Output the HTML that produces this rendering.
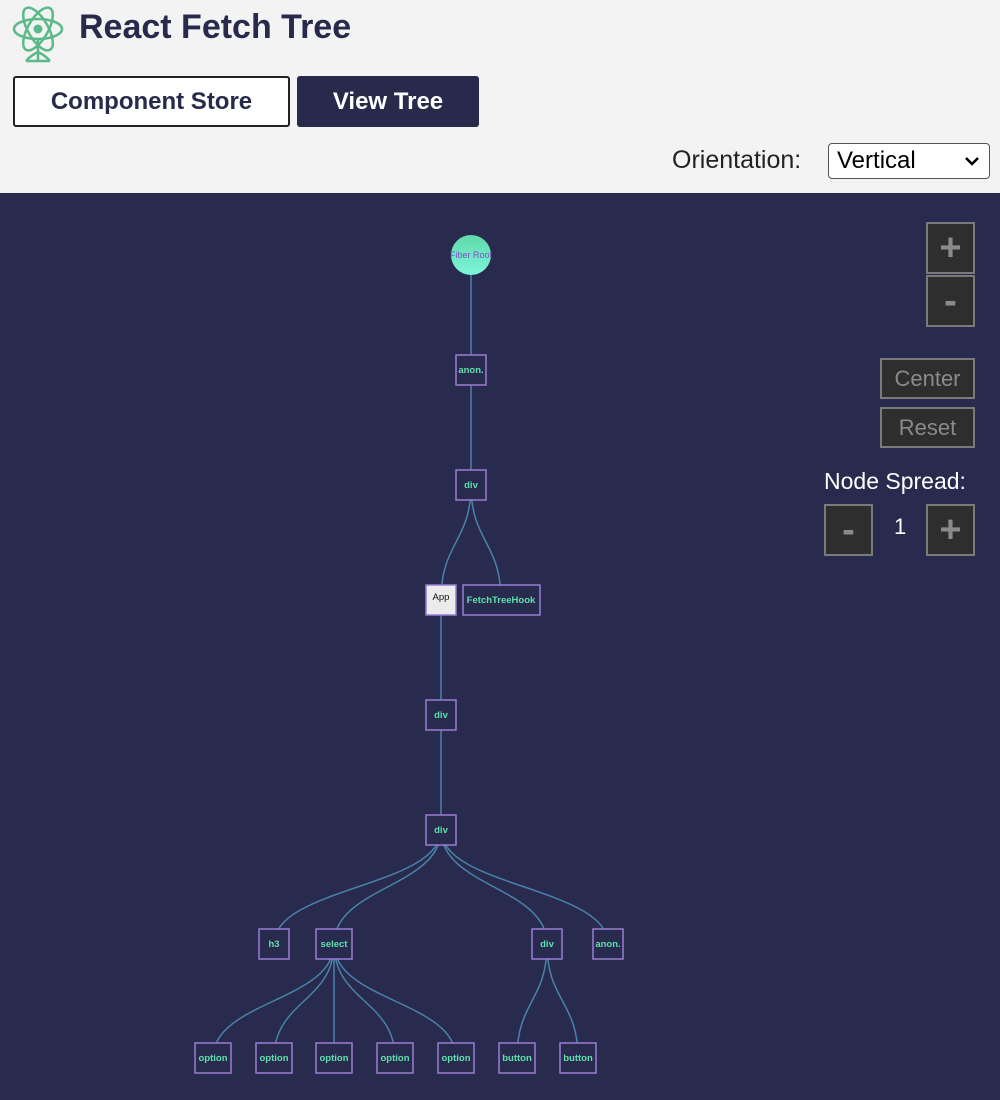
<!DOCTYPE html>
<html><head><meta charset="utf-8"><style>
*{margin:0;padding:0;box-sizing:border-box}
body{width:1000px;height:1100px;background:#f3f3f3;font-family:"Liberation Sans",sans-serif;position:relative;overflow:hidden}
.t{position:absolute;left:79px;top:8px;font-size:34px;font-weight:bold;color:#272a4b}
.b{position:absolute;top:76px;height:51px;border-radius:3px;font-size:24px;font-weight:bold;display:flex;align-items:center;justify-content:center}
.cs{left:13px;width:277px;background:#fff;border:2px solid #222;color:#272a4b}
.vt{left:297px;width:182px;background:#272a4b;color:#fff}
.or{position:absolute;left:672px;top:146px;font-size:25px;color:#222}
.sel{position:absolute;left:828px;top:143px;width:162px;height:36px;border:1px solid #555;border-radius:4px;background:#fff;font-size:24px;padding-left:8px;line-height:34px;color:#000}
.main{position:absolute;left:0;top:193px;width:1000px;height:907px;background:#282b4d}
.cb{position:absolute;background:#2e2e2e;border:2px solid #7a7a7a;color:#8a8a8a;display:flex;align-items:center;justify-content:center}
.pm{font-size:38px;font-weight:bold}
</style></head><body>
<svg style="position:absolute;left:0;top:0" width="80" height="70" viewBox="0 0 80 70">
<g fill="none" stroke="#5bb98a" stroke-width="2.5">
<ellipse cx="38" cy="29" rx="24" ry="10"/>
<ellipse cx="38" cy="29" rx="24" ry="10" transform="rotate(60 38 29)"/>
<ellipse cx="38" cy="29" rx="24" ry="10" transform="rotate(-60 38 29)"/>
<path d="M38 40 L38 60 M26 61 L50 61 M38 52 Q30 56 26 61 M38 52 Q46 56 50 61"/>
</g><circle cx="38" cy="29" r="4.5" fill="#5bb98a"/></svg>
<div class="t">React Fetch Tree</div>
<div class="b cs">Component Store</div>
<div class="b vt">View Tree</div>
<div class="or">Orientation:</div>
<div class="sel">Vertical<svg style="position:absolute;right:10px;top:12px" width="14" height="10"><path d="M1 2 L7 8 L13 2" fill="none" stroke="#000" stroke-width="2.5"/></svg></div>
<div class="main"></div>
<svg style="position:absolute;left:0;top:0" width="1000" height="1100">
<g fill="none" stroke="#4a82aa" stroke-width="1.5">
<path d="M471 255 L471 485"/>
<path d="M471 485 C471 542 441 542 441 600"/>
<path d="M471 485 C471 542 501 542 501 600"/>
<path d="M441 600 L441 830"/>
<path d="M441 830 C441 887 274 887 274 944"/>
<path d="M441 830 C441 887 334 887 334 944"/>
<path d="M441 830 C441 887 547 887 547 944"/>
<path d="M441 830 C441 887 608 887 608 944"/>
<path d="M334 944 C334 1001 213 1001 213 1058"/>
<path d="M334 944 C334 1001 274 1001 274 1058"/>
<path d="M334 944 L334 1058"/>
<path d="M334 944 C334 1001 395 1001 395 1058"/>
<path d="M334 944 C334 1001 456 1001 456 1058"/>
<path d="M547 944 C547 1001 517 1001 517 1058"/>
<path d="M547 944 C547 1001 578 1001 578 1058"/>
</g>
<defs><linearGradient id="g" x1="0" y1="0" x2="0" y2="1"><stop offset="0" stop-color="#5fd9a8"/><stop offset="1" stop-color="#7cf5dc"/></linearGradient></defs>
<circle cx="471" cy="255" r="20" fill="url(#g)"/>
<text x="471" y="258" font-size="9" fill="#7a52c0" text-anchor="middle" font-family="Liberation Sans">Fiber Root</text>
<g stroke="#9a7dd6" stroke-width="1.5" fill="#282b4d">
<rect x="456" y="355" width="30" height="30"/>
<rect x="456" y="470" width="30" height="30"/>
<rect x="426" y="585" width="30" height="30" fill="#ececec"/>
<rect x="463" y="585" width="77" height="30"/>
<rect x="426" y="700" width="30" height="30"/>
<rect x="426" y="815" width="30" height="30"/>
<rect x="259" y="929" width="30" height="30"/>
<rect x="316" y="929" width="36" height="30"/>
<rect x="532" y="929" width="30" height="30"/>
<rect x="593" y="929" width="30" height="30"/>
<rect x="195" y="1043" width="36" height="30"/>
<rect x="256" y="1043" width="36" height="30"/>
<rect x="316" y="1043" width="36" height="30"/>
<rect x="377" y="1043" width="36" height="30"/>
<rect x="438" y="1043" width="36" height="30"/>
<rect x="499" y="1043" width="36" height="30"/>
<rect x="560" y="1043" width="36" height="30"/>
</g>
<g font-size="9.5" font-weight="bold" fill="#5fe0ae" text-anchor="middle" font-family="Liberation Sans">
<text x="471" y="373">anon.</text>
<text x="471" y="488">div</text>
<text x="441" y="600" fill="#111" font-weight="normal">App</text>
<text x="501" y="603">FetchTreeHook</text>
<text x="441" y="718">div</text>
<text x="441" y="833">div</text>
<text x="274" y="947">h3</text>
<text x="334" y="947">select</text>
<text x="547" y="947">div</text>
<text x="608" y="947">anon.</text>
<text x="213" y="1061">option</text>
<text x="274" y="1061">option</text>
<text x="334" y="1061">option</text>
<text x="395" y="1061">option</text>
<text x="456" y="1061">option</text>
<text x="517" y="1061">button</text>
<text x="578" y="1061">button</text>
</g>
</svg>
<div class="cb pm" style="left:926px;top:222px;width:49px;height:52px">+</div>
<div class="cb pm" style="left:926px;top:275px;width:49px;height:52px">-</div>
<div class="cb" style="left:880px;top:358px;width:95px;height:41px;font-size:22px">Center</div>
<div class="cb" style="left:880px;top:407px;width:95px;height:41px;font-size:22px">Reset</div>
<div style="position:absolute;left:824px;top:468px;font-size:23px;color:#fff">Node Spread:</div>
<div class="cb pm" style="left:824px;top:504px;width:49px;height:52px">-</div>
<div style="position:absolute;left:894px;top:514px;font-size:22px;color:#fff">1</div>
<div class="cb pm" style="left:926px;top:504px;width:49px;height:52px">+</div>
</body></html>
